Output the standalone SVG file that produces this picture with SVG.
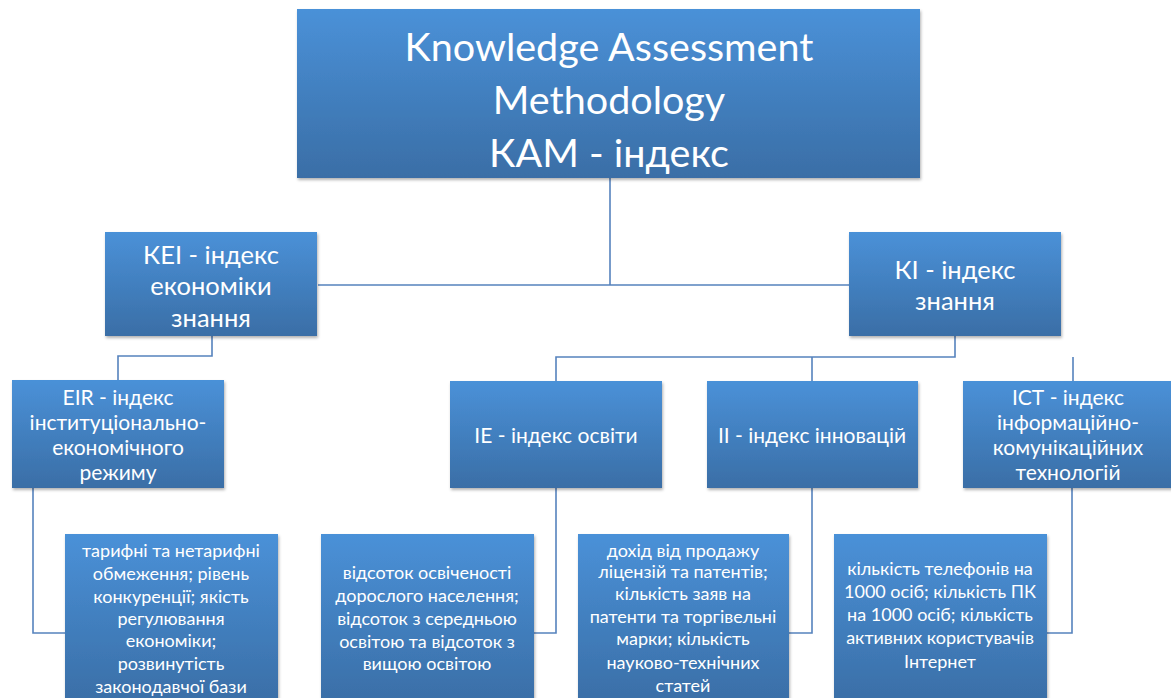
<svg xmlns="http://www.w3.org/2000/svg" width="1171" height="698" viewBox="0 0 1171 698">
<defs>
<linearGradient id="g" x1="0" y1="0" x2="0" y2="1">
<stop offset="0" stop-color="#4a91d8"/>
<stop offset="1" stop-color="#3a6ea6"/>
</linearGradient>
<filter id="sh" x="-5%" y="-5%" width="110%" height="115%">
<feDropShadow dx="1" dy="2" stdDeviation="1.5" flood-color="#000" flood-opacity="0.3"/>
</filter>
</defs>
<style>
.box{fill:url(#g);filter:url(#sh)}
.t{font-family:Lato,"Noto Sans",sans-serif;fill:#fff;text-anchor:middle}
.c{fill:none;stroke:#5683bd;stroke-width:1.6}
</style>
<rect width="1171" height="698" fill="#fff"/>
<g id="connectors">
<path class="c" d="M610 178V285M318 285H849"/>
<path class="c" d="M212 336V356H118V380"/>
<path class="c" d="M955 336V357H556V381M812 357V381M1073 357V381"/>
<path class="c" d="M33 488V633H65"/>
<path class="c" d="M556 488V633H534"/>
<path class="c" d="M812 488V633H789"/>
<path class="c" d="M1072 488V633H1047"/>
</g>
<g id="kam">
<rect class="box" x="297" y="9" width="623" height="169"/>
<text class="t" font-size="39.5"><tspan x="609" y="61">Knowledge Assessment</tspan><tspan x="609" y="114">Methodology</tspan><tspan x="609" y="167">КАМ - індекс</tspan></text>
</g>
<g id="kei">
<rect class="box" x="105" y="232" width="212" height="104"/>
<text class="t" font-size="25.5"><tspan x="211" y="264">КЕІ - індекс</tspan><tspan x="211" y="295">економіки</tspan><tspan x="211" y="327">знання</tspan></text>
</g>
<g id="ki">
<rect class="box" x="849" y="232" width="212" height="104"/>
<text class="t" font-size="25.5"><tspan x="955" y="279">КІ - індекс</tspan><tspan x="955" y="310">знання</tspan></text>
</g>
<g id="eir">
<rect class="box" x="12" y="380" width="212" height="108"/>
<text class="t" font-size="21"><tspan x="118" y="405">EIR - індекс</tspan><tspan x="118" y="430">інституціонально-</tspan><tspan x="118" y="455">економічного</tspan><tspan x="118" y="480">режиму</tspan></text>
</g>
<g id="ie">
<rect class="box" x="450" y="381" width="212" height="107"/>
<text class="t" font-size="21" x="556" y="443">ІЕ - індекс освіти</text>
</g>
<g id="ii">
<rect class="box" x="707" y="381" width="211" height="107"/>
<text class="t" font-size="21" x="812" y="443">ІІ - індекс інновацій</text>
</g>
<g id="ict">
<rect class="box" x="963" y="381" width="212" height="107"/>
<text class="t" font-size="21"><tspan x="1068" y="405">ІСТ - індекс</tspan><tspan x="1068" y="430">інформаційно-</tspan><tspan x="1068" y="455">комунікаційних</tspan><tspan x="1068" y="480">технологій</tspan></text>
</g>
<g id="eir-details">
<rect class="box" x="65" y="534" width="213" height="170"/>
<text class="t" font-size="18"><tspan x="171" y="557">тарифні та нетарифні</tspan><tspan x="171" y="580">обмеження; рівень</tspan><tspan x="171" y="603">конкуренції; якість</tspan><tspan x="171" y="625">регулювання</tspan><tspan x="171" y="647">економіки;</tspan><tspan x="171" y="670">розвинутість</tspan><tspan x="171" y="693">законодавчої бази</tspan></text>
</g>
<g id="ie-details">
<rect class="box" x="321" y="534" width="213" height="170"/>
<text class="t" font-size="18"><tspan x="427" y="579">відсоток освіченості</tspan><tspan x="427" y="602">дорослого населення;</tspan><tspan x="427" y="625">відсоток з середньою</tspan><tspan x="427" y="648">освітою та відсоток з</tspan><tspan x="427" y="670">вищою освітою</tspan></text>
</g>
<g id="ii-details">
<rect class="box" x="578" y="534" width="211" height="170"/>
<text class="t" font-size="18"><tspan x="683" y="557">дохід від продажу</tspan><tspan x="683" y="578">ліцензій та патентів;</tspan><tspan x="683" y="600">кількість заяв на</tspan><tspan x="683" y="623">патенти та торгівельні</tspan><tspan x="683" y="645">марки; кількість</tspan><tspan x="683" y="669">науково-технічних</tspan><tspan x="683" y="692">статей</tspan></text>
</g>
<g id="ict-details">
<rect class="box" x="834" y="534" width="213" height="170"/>
<text class="t" font-size="18"><tspan x="940" y="575">кількість телефонів на</tspan><tspan x="940" y="598">1000 осіб; кількість ПК</tspan><tspan x="940" y="621">на 1000 осіб; кількість</tspan><tspan x="940" y="644">активних користувачів</tspan><tspan x="940" y="668">Інтернет</tspan></text>
</g>
</svg>
